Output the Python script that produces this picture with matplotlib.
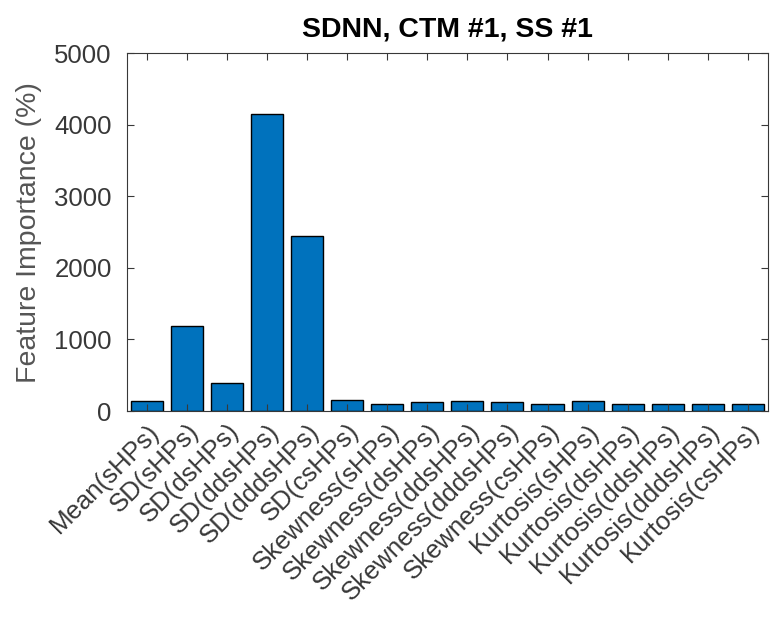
import numpy as np
import matplotlib
matplotlib.use("Agg")
import matplotlib.pyplot as plt

plt.rcParams['font.family'] = ['Liberation Sans', 'DejaVu Sans']

# feature names and importance values (%)
features = ['Mean(sHPs)', 'SD(sHPs)', 'SD(dsHPs)', 'SD(ddsHPs)', 'SD(dddsHPs)', 'SD(csHPs)',
            'Skewness(sHPs)', 'Skewness(dsHPs)', 'Skewness(ddsHPs)', 'Skewness(dddsHPs)',
            'Skewness(csHPs)', 'Kurtosis(sHPs)', 'Kurtosis(dsHPs)', 'Kurtosis(ddsHPs)',
            'Kurtosis(dddsHPs)', 'Kurtosis(csHPs)']
importance = [140, 1190, 395, 4150, 2440, 160, 100, 130, 135, 130, 95, 135, 105, 100, 105, 100]
yticks = [0, 1000, 2000, 3000, 4000, 5000]

grey = '#383838'
fig = plt.figure(figsize=(7.74, 6.19), dpi=100)
ax = fig.add_axes([0.164, 0.336, 0.828, 0.578])

x = np.arange(1, len(features) + 1)
ax.bar(x, importance, width=0.8, color='#0072BD', edgecolor='black', linewidth=1.0)

ax.set_xlim(0.5, len(features) + 0.5)
ax.set_ylim(0, 5000)
ax.set_yticks(yticks)
ax.set_xticks(x)
ax.set_xticklabels(features, rotation=45, ha='right', rotation_mode='anchor')
ax.tick_params(direction='in', top=True, right=True, labelsize=18.5, colors=grey,
               length=5, width=0.8)
ax.tick_params(axis='x', pad=6)
ax.tick_params(axis='y', pad=11)
for sp in ax.spines.values():
    sp.set_color(grey)
    sp.set_linewidth(0.8)
ax.set_ylabel('Feature Importance (%)', fontsize=20.5, color='#555555', labelpad=9)
ax.set_title('SDNN, CTM #1, SS #1', fontsize=20.5, fontweight='bold', pad=12)

fig.savefig('out.png', dpi=100)
